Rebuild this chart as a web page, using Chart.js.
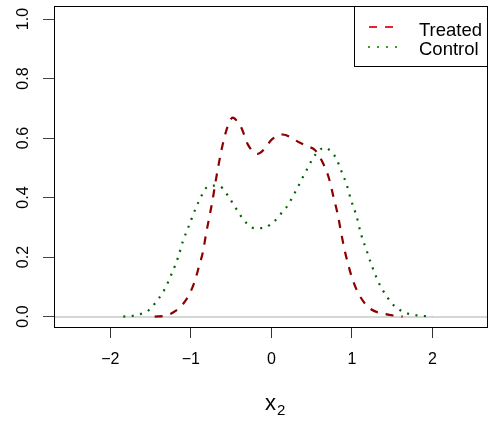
<!DOCTYPE html>
<html><head><meta charset="utf-8">
<script src="https://cdn.jsdelivr.net/npm/chart.js@4/dist/chart.umd.min.js"></script>
<style>html,body{margin:0;padding:0;background:#fff}#wrap{width:490px;height:421px}</style>
</head><body><div id="wrap"><canvas id="c" width="490" height="421"></canvas></div>
<script>
const seriesNames = ['Treated', 'Control'];
const treatedX = [-1.45, -1.3, -1.2, -1.06, -0.96, -0.9, -0.85, -0.81, -0.77, -0.73, -0.70, -0.66, -0.62, -0.57, -0.52, -0.48, -0.42, -0.37, -0.29, -0.17, -0.08, 0, 0.14, 0.33, 0.45, 0.54, 0.64, 0.72, 0.77, 0.82, 0.86, 0.90, 0.95, 1.01, 1.09, 1.22, 1.42, 1.63];
const treatedY = [0, 0.004, 0.017, 0.056, 0.112, 0.168, 0.218, 0.28, 0.336, 0.392, 0.443, 0.504, 0.56, 0.616, 0.655, 0.669, 0.655, 0.633, 0.577, 0.547, 0.565, 0.594, 0.612, 0.588, 0.572, 0.56, 0.516, 0.46, 0.403, 0.348, 0.291, 0.235, 0.179, 0.123, 0.073, 0.028, 0.008, 0];
const controlX = [-1.84, -1.73, -1.62, -1.52, -1.45, -1.33, -1.24, -1.16, -1.10, -1.02, -0.94, -0.85, -0.79, -0.70, -0.60, -0.54, -0.48, -0.37, -0.30, -0.21, -0.10, -0.01, 0.075, 0.14, 0.21, 0.26, 0.31, 0.36, 0.41, 0.46, 0.51, 0.58, 0.66, 0.75, 0.81, 0.85, 0.89, 0.93, 0.99, 1.06, 1.11, 1.18, 1.25, 1.33, 1.38, 1.44, 1.50, 1.59, 1.68, 1.79, 1.89, 2.0];
const controlY = [0, 0.002, 0.009, 0.022, 0.043, 0.09, 0.143, 0.198, 0.252, 0.308, 0.364, 0.415, 0.437, 0.44, 0.43, 0.406, 0.381, 0.334, 0.312, 0.297, 0.297, 0.31, 0.331, 0.353, 0.376, 0.401, 0.426, 0.452, 0.479, 0.504, 0.53, 0.555, 0.568, 0.552, 0.529, 0.502, 0.475, 0.447, 0.391, 0.335, 0.28, 0.224, 0.169, 0.116, 0.09, 0.065, 0.043, 0.023, 0.011, 0.005, 0.002, 0];
const xTicks = [-2, -1, 0, 1, 2];
const xTickLabels = ['\u22122', '\u22121', '0', '1', '2'];
const yTicks = [0, 0.2, 0.4, 0.6, 0.8, 1.0];
const yTickLabels = ['0.0', '0.2', '0.4', '0.6', '0.8', '1.0'];
const xTitle = 'x';
const xTitleSub = '2';

const FONT = "'Liberation Sans', Arial, Helvetica, sans-serif";
const toPts = (xs, ys) => xs.map((x, i) => ({x: x, y: ys[i]}));

const frame = {
  id: 'frame',
  beforeDatasetsDraw(chart) {
    const {ctx, chartArea: a, scales: {y}} = chart;
    ctx.save();
    ctx.strokeStyle = '#d6d6d6';
    ctx.lineWidth = 2;
    const y0 = Math.round(y.getPixelForValue(0));
    ctx.beginPath(); ctx.moveTo(a.left, y0); ctx.lineTo(a.right, y0); ctx.stroke();
    ctx.restore();
  },
  afterDraw(chart) {
    const {ctx, chartArea: a, scales: {x, y}} = chart;
    ctx.save();
    ctx.strokeStyle = '#000';
    ctx.lineWidth = 1;
    ctx.strokeRect(a.left + 0.5, a.top + 0.5, a.right - a.left - 1, a.bottom - a.top - 1);
    // y labels rotated
    ctx.fillStyle = '#000';
    ctx.font = '16px ' + FONT;
    ctx.textAlign = 'center';
    ctx.textBaseline = 'middle';
    yTicks.forEach((v, i) => {
      ctx.save();
      ctx.translate(24, y.getPixelForValue(v));
      ctx.rotate(-Math.PI / 2);
      ctx.fillText(yTickLabels[i], 0, 0);
      ctx.restore();
    });
    // x title with subscript
    ctx.textAlign = 'left';
    ctx.textBaseline = 'alphabetic';
    ctx.font = '22px ' + FONT;
    ctx.fillText(xTitle, 265, 410);
    ctx.font = '15px ' + FONT;
    ctx.fillText(xTitleSub, 277, 415);
    // legend
    const lx = 354, ly = a.top, lw = a.right - 354, lh = 61;
    ctx.fillStyle = '#fff';
    ctx.fillRect(lx, ly, lw, lh);
    ctx.strokeStyle = '#000';
    ctx.lineWidth = 1;
    ctx.strokeRect(lx + 0.5, ly + 0.5, lw - 1, lh - 1);
    ctx.lineWidth = 2;
    ctx.strokeStyle = '#e3262b';
    ctx.setLineDash([8, 8]);
    ctx.beginPath(); ctx.moveTo(369, 27); ctx.lineTo(394, 27); ctx.stroke();
    ctx.strokeStyle = '#3d9a25';
    ctx.setLineDash([2, 7]);
    ctx.beginPath(); ctx.moveTo(368, 47); ctx.lineTo(397, 47); ctx.stroke();
    ctx.setLineDash([]);
    ctx.fillStyle = '#000';
    ctx.font = '18.5px ' + FONT;
    ctx.fillText(seriesNames[0], 419, 36);
    ctx.fillText(seriesNames[1], 419, 55);
    ctx.restore();
  }
};

new Chart(document.getElementById('c'), {
  type: 'line',
  data: {
    datasets: [
      {label: seriesNames[0], data: toPts(treatedX, treatedY), borderColor: '#8b0000', borderWidth: 2.2,
       borderDash: [8, 8], pointRadius: 0, cubicInterpolationMode: 'monotone', fill: false},
      {label: seriesNames[1], data: toPts(controlX, controlY), borderColor: '#006400', borderWidth: 2.2,
       borderDash: [2, 6.5], pointRadius: 0, cubicInterpolationMode: 'monotone', fill: false}
    ]
  },
  options: {
    responsive: false, animation: false, devicePixelRatio: 1,
    layout: {padding: {top: 6, right: 2, left: 0, bottom: 0}},
    plugins: {legend: {display: false}, tooltip: {enabled: false}},
    scales: {
      x: {
        type: 'linear', min: -2.7, max: 2.69,
        afterBuildTicks: s => { s.ticks = xTicks.map(v => ({value: v})); },
        afterFit: s => { s.height = 93; },
        ticks: {callback: (v) => xTickLabels[xTicks.indexOf(v)], color: '#000', font: {family: FONT, size: 16}, padding: 12, maxRotation: 0, autoSkip: false},
        grid: {drawOnChartArea: false, drawTicks: true, tickLength: 10, color: '#333', lineWidth: 1},
        border: {display: false}
      },
      y: {
        type: 'linear', min: -0.0385, max: 1.044,
        afterBuildTicks: s => { s.ticks = yTicks.map(v => ({value: v})); },
        afterFit: s => { s.width = 54; },
        ticks: {display: false},
        grid: {drawOnChartArea: false, drawTicks: true, tickLength: 11, color: '#444', lineWidth: 1},
        border: {display: false}
      }
    }
  },
  plugins: [frame]
});
</script></body></html>
